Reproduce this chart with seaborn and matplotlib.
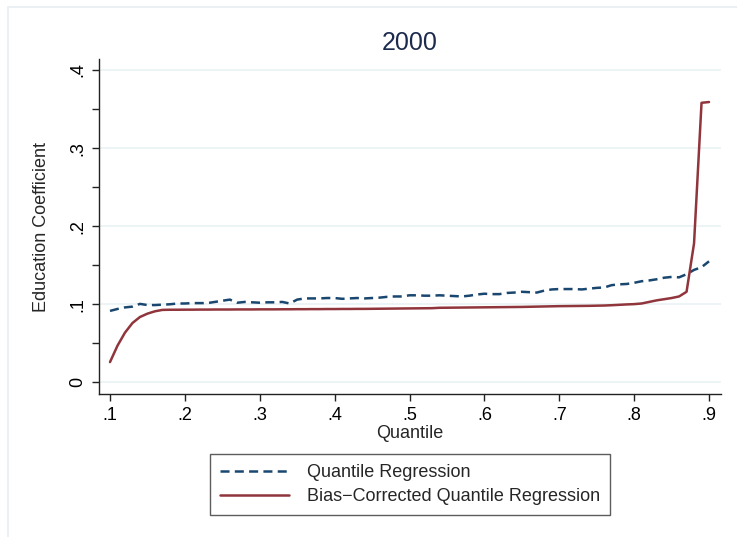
import numpy as np
import pandas as pd
import matplotlib
matplotlib.use("Agg")
import matplotlib.pyplot as plt
import seaborn as sns
from matplotlib.patches import Rectangle
from matplotlib.lines import Line2D
from matplotlib.ticker import FixedLocator

quantiles = [round(0.10 + 0.01 * i, 2) for i in range(81)]

qr_coef = [
    0.0915, 0.0940, 0.0960, 0.0970, 0.1005, 0.0990, 0.0990, 0.0995, 0.1000, 0.1010,
    0.1010, 0.1015, 0.1015, 0.1015, 0.1030, 0.1045, 0.1060, 0.1020, 0.1030, 0.1025,
    0.1020, 0.1025, 0.1025, 0.1030, 0.1010, 0.1060, 0.1075, 0.1075, 0.1075, 0.1080,
    0.1080, 0.1070, 0.1075, 0.1080, 0.1075, 0.1080, 0.1085, 0.1095, 0.1100, 0.1100,
    0.1115, 0.1115, 0.1110, 0.1110, 0.1115, 0.1110, 0.1105, 0.1100, 0.1110, 0.1125,
    0.1135, 0.1130, 0.1130, 0.1145, 0.1150, 0.1160, 0.1155, 0.1150, 0.1175, 0.1190,
    0.1195, 0.1195, 0.1195, 0.1190, 0.1200, 0.1210, 0.1215, 0.1245, 0.1255, 0.1260,
    0.1275, 0.1295, 0.1305, 0.1320, 0.1340, 0.1350, 0.1345, 0.1385, 0.1440, 0.1475,
    0.1550,
]

bc_coef = [
    0.0260, 0.0470, 0.0637, 0.0760, 0.0837, 0.0880, 0.0910, 0.0928, 0.0930, 0.0930,
    0.0931, 0.0931, 0.0932, 0.0932, 0.0933, 0.0933, 0.0933, 0.0934, 0.0934, 0.0934,
    0.0935, 0.0935, 0.0935, 0.0936, 0.0936, 0.0937, 0.0937, 0.0938, 0.0938, 0.0939,
    0.0939, 0.0940, 0.0940, 0.0941, 0.0941, 0.0942, 0.0943, 0.0944, 0.0945, 0.0946,
    0.0947, 0.0948, 0.0949, 0.0950, 0.0955, 0.0956, 0.0957, 0.0958, 0.0959, 0.0960,
    0.0961, 0.0962, 0.0963, 0.0964, 0.0965, 0.0966, 0.0968, 0.0970, 0.0972, 0.0974,
    0.0976, 0.0977, 0.0978, 0.0979, 0.0980, 0.0982, 0.0984, 0.0988, 0.0993, 0.0998,
    0.1002, 0.1010, 0.1030, 0.1050, 0.1065, 0.1080, 0.1100, 0.1160, 0.1780, 0.3580,
    0.3590,
]

x_ticks = [0.1, 0.2, 0.3, 0.4, 0.5, 0.6, 0.7, 0.8, 0.9]
x_tick_labels = [".1", ".2", ".3", ".4", ".5", ".6", ".7", ".8", ".9"]
y_ticks = [0.0, 0.1, 0.2, 0.3, 0.4]
y_tick_labels = ["0", ".1", ".2", ".3", ".4"]
y_minor_ticks = [0.05, 0.15, 0.25, 0.35]
series_names = ["Quantile Regression", "Bias\u2212Corrected Quantile Regression"]
title_text = "2000"
x_label = "Quantile"
y_label = "Education Coefficient"

sns.set_style("white")
plt.rcParams["font.family"] = ["Liberation Sans", "DejaVu Sans"]
plt.rcParams["lines.scale_dashes"] = False

W, H = 737, 537
fig = plt.figure(figsize=(W / 100, H / 100), dpi=100)
fig.patch.set_facecolor("white")

# faint outer graph-region border
fig.patches.append(Rectangle((8 / W, -0.1), 1.2, 1 - 7 / H + 0.1, transform=fig.transFigure,
                             fill=False, edgecolor="#e6eef1", linewidth=1.2))

ax_l, ax_r, ax_t, ax_b = 99, 721, 59, 394
ax = fig.add_axes([ax_l / W, 1 - ax_b / H, (ax_r - ax_l) / W, (ax_b - ax_t) / H])

blue = "#1a476f"
red = "#90353b"
fs = 13

df = pd.DataFrame({"q": quantiles, "qr": qr_coef, "bc": bc_coef})
sns.lineplot(data=df, x="q", y="qr", ax=ax, color=blue, linewidth=1.8,
             linestyle=(0, (6.5, 3.8)), legend=False)
sns.lineplot(data=df, x="q", y="bc", ax=ax, color=red, linewidth=1.8, legend=False)

ax.set_xlim(0.0853, 0.916)
ax.set_ylim(-0.0149, 0.4141)
ax.set_xticks(x_ticks)
ax.set_xticklabels(x_tick_labels)
ax.set_yticks(y_ticks)
ax.set_yticklabels(y_tick_labels, rotation=90, va="center")
ax.yaxis.set_minor_locator(FixedLocator(y_minor_ticks))
ax.grid(axis="y", which="major", color="#eaf2f3", linewidth=1.2)
ax.grid(axis="x", visible=False)
for s in ["top", "right"]:
    ax.spines[s].set_visible(False)
for s in ["left", "bottom"]:
    ax.spines[s].set_color("#222222")
    ax.spines[s].set_linewidth(1.0)
ax.tick_params(axis="both", which="major", direction="out", length=5.2, width=1.0,
               color="#222222", labelsize=fs, labelcolor="black", pad=4)
ax.tick_params(axis="y", which="minor", direction="out", length=5.2, width=1.0,
               color="#222222", left=True)
ax.tick_params(left=True, bottom=True)
ax.set_xlabel(x_label, fontsize=fs, labelpad=1)
ax.set_ylabel(y_label, fontsize=fs, labelpad=14)
ax.set_title(title_text, fontsize=18, color="#1c2a4e", pad=6.5)

handles = [Line2D([], [], color=blue, linewidth=1.8, linestyle=(0, (6.5, 3.8))),
           Line2D([], [], color=red, linewidth=1.8)]
leg = fig.legend(handles, series_names, loc="center", bbox_to_anchor=(410 / W, 1 - 484.5 / H),
                 frameon=True, fancybox=False, fontsize=fs, handlelength=3.8,
                 handletextpad=1.0, borderpad=0.55, labelspacing=0.4, borderaxespad=0)
leg.get_frame().set_edgecolor("#333333")
leg.get_frame().set_linewidth(1.0)

fig.savefig("out.png", dpi=100, facecolor="white")
